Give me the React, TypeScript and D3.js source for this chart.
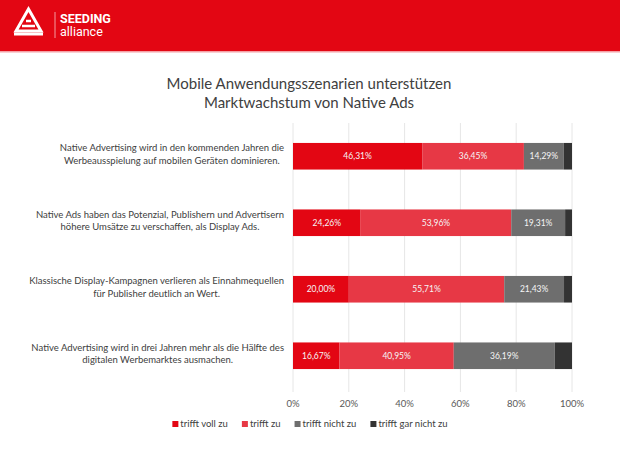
import React, { useEffect, useRef } from 'react';
import * as d3 from 'd3';

// Daten aus der Grafik
const statements = [
  ['Native Advertising wird in den kommenden Jahren die', 'Werbeausspielung auf mobilen Geräten dominieren.'],
  ['Native Ads haben das Potenzial, Publishern und Advertisern', 'höhere Umsätze zu verschaffen, als Display Ads.'],
  ['Klassische Display-Kampagnen verlieren als Einnahmequellen', 'für Publisher deutlich an Wert.'],
  ['Native Advertising wird in drei Jahren mehr als die Hälfte des', 'digitalen Werbemarktes ausmachen.'],
];
const seriesNames = ['trifft voll zu', 'trifft zu', 'trifft nicht zu', 'trifft gar nicht zu'];
const trifftVollZu = [46.31, 24.26, 20.0, 16.67];
const trifftZu = [36.45, 53.96, 55.71, 40.95];
const trifftNichtZu = [14.29, 19.31, 21.43, 36.19];
const trifftGarNichtZu = [2.95, 2.47, 2.86, 6.19];
const ticks = [0, 20, 40, 60, 80, 100];
const colors = ['#E30613', '#E73845', '#6E6E6E', '#333333'];

const App: React.FC = () => {
  const ref = useRef<SVGSVGElement>(null);

  useEffect(() => {
    const width = 620;
    const height = 465;
    const svg = d3.select(ref.current).attr('width', width).attr('height', height);
    svg.selectAll('*').remove();

    const font = 'Lato, "Open Sans", sans-serif';

    // Kopfbanner
    svg.append('rect').attr('x', 0).attr('y', 0).attr('width', width).attr('height', 51).attr('fill', '#E30613');
    svg.append('rect').attr('x', 0).attr('y', 51).attr('width', width).attr('height', 1.5).attr('fill', '#F4A0A5');

    const logo = svg.append('g').attr('fill', 'none').attr('stroke', '#fff');
    logo.append('path').attr('d', 'M28.5,9 L16,31 L41,31 Z').attr('stroke-width', 3).attr('stroke-linejoin', 'miter');
    logo.append('path').attr('d', 'M14,34 L43,34').attr('stroke-width', 3);
    logo.append('path').attr('d', 'M22,26 L35,26').attr('stroke-width', 2.5);
    logo.append('path').attr('d', 'M26,21 L31,21').attr('stroke-width', 2.5);
    svg.append('line').attr('x1', 55).attr('x2', 55).attr('y1', 12).attr('y2', 38).attr('stroke', '#fff').attr('stroke-opacity', 0.6);
    svg.append('text').attr('x', 60).attr('y', 22.5).text('SEEDING')
      .attr('fill', '#fff').style('font-family', 'Roboto, sans-serif').style('font-weight', 700).style('font-size', '12.5px');
    svg.append('text').attr('x', 60).attr('y', 36).text('alliance')
      .attr('fill', '#fff').style('font-family', 'Roboto, sans-serif').style('font-size', '12.5px');

    // Titel
    const title = ['Mobile Anwendungsszenarien unterstützen', 'Marktwachstum von Native Ads'];
    title.forEach((t, i) => {
      svg.append('text').attr('x', 309).attr('y', 89 + i * 19).attr('text-anchor', 'middle')
        .text(t).attr('fill', '#404040').style('font-family', font).style('font-size', '15px');
    });

    // Skalen
    const x = d3.scaleLinear().domain([0, 100]).range([293, 572]);
    const y = d3.scaleBand<number>().domain(d3.range(statements.length)).range([123, 389]).paddingInner(0.6).paddingOuter(0.3);

    // Gitterlinien
    svg.append('g').selectAll('line').data(ticks).enter().append('line')
      .attr('x1', (d) => x(d)).attr('x2', (d) => x(d)).attr('y1', 123).attr('y2', 392)
      .attr('stroke', '#E6E6E6').attr('stroke-width', 1);

    // Achsenbeschriftung
    svg.append('g').selectAll('text').data(ticks).enter().append('text')
      .attr('x', (d) => x(d)).attr('y', 407).attr('text-anchor', 'middle')
      .text((d) => `${d}%`).attr('fill', '#595959').style('font-family', font).style('font-size', '9.5px');

    // Gestapelte Daten
    const table = statements.map((_, i) => ({
      i,
      v0: trifftVollZu[i],
      v1: trifftZu[i],
      v2: trifftNichtZu[i],
      v3: trifftGarNichtZu[i],
    }));
    const stack = d3.stack<any>().keys(['v0', 'v1', 'v2', 'v3'])(table);

    stack.forEach((layer, k) => {
      const g = svg.append('g');
      g.selectAll('rect').data(layer).enter().append('rect')
        .attr('x', (d) => x(d[0]))
        .attr('y', (d) => y(d.data.i)!)
        .attr('width', (d) => x(d[1]) - x(d[0]))
        .attr('height', y.bandwidth())
        .attr('fill', colors[k]);
      if (k < 3) {
        g.selectAll('text').data(layer).enter().append('text')
          .attr('x', (d) => (x(d[0]) + x(d[1])) / 2)
          .attr('y', (d) => y(d.data.i)! + y.bandwidth() / 2 + 3)
          .attr('text-anchor', 'middle')
          .text((d) => (d[1] - d[0]).toFixed(2).replace('.', ',') + '%')
          .attr('fill', '#F5F5F5')
          .style('font-family', font).style('font-size', '8.5px');
      }
    });

    // Kategorien (zentriert, rechtsbündig am Block)
    statements.forEach((lines, i) => {
      const cy = y(i)! + y.bandwidth() / 2;
      const g = svg.append('g');
      const texts = lines.map((l, j) =>
        g.append('text').attr('y', cy + 1 + (j - 0.5) * 12.5).text(l)
          .attr('text-anchor', 'middle').attr('fill', '#404040')
          .style('font-family', font).style('font-size', '9.5px'));
      const maxW = d3.max(texts, (t) => (t.node() as SVGTextElement).getComputedTextLength()) || 0;
      texts.forEach((t) => t.attr('x', 284 - maxW / 2));
    });

    // Legende
    const legend = svg.append('g');
    let lx = 0;
    seriesNames.forEach((name, k) => {
      const item = legend.append('g');
      item.append('rect').attr('x', 0).attr('y', -6).attr('width', 6).attr('height', 6).attr('fill', colors[k]);
      const t = item.append('text').attr('x', 8).attr('y', 0).text(name).attr('fill', '#404040')
        .style('font-family', font).style('font-size', '9.5px');
      const w = 8 + (t.node() as SVGTextElement).getComputedTextLength();
      item.attr('transform', `translate(${lx},0)`);
      lx += w + 14;
    });
    const total = lx - 14;
    legend.attr('transform', `translate(${310 - total / 2},427)`);
  }, []);

  return <svg ref={ref} style={{ position: 'absolute', left: 0, top: 0, background: '#fff' }}></svg>;
};

export default App;
